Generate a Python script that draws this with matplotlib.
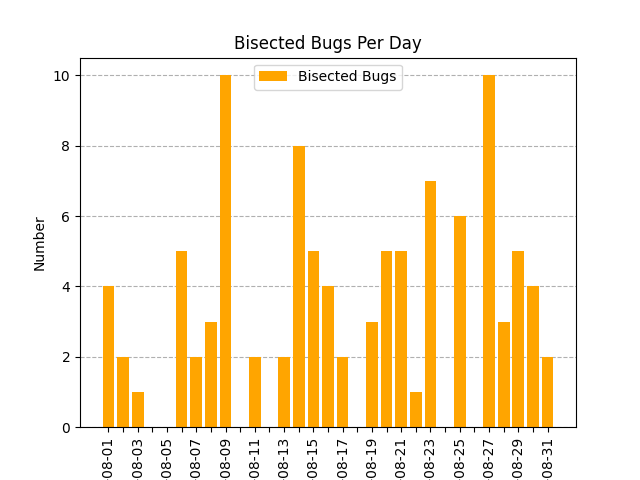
import datetime

import matplotlib
matplotlib.use('Agg')
import matplotlib.pyplot as plt
import matplotlib.dates as mdates

# bugs bisected each day in August
days = list(range(1, 32))
counts = [4, 2, 1, 0, 0, 5, 2, 3, 10, 0,
          2, 0, 2, 8, 5, 4, 2, 0, 3, 5,
          5, 1, 7, 0, 6, 0, 10, 3, 5, 4,
          2]


def main():
    dates = [datetime.date(2019, 8, d) for d in days]

    fig, ax = plt.subplots()
    ax.bar(dates, counts, color='orange', label='Bisected Bugs', zorder=2)

    #-- one tick per day, label only every other day
    ax.set_xticks(dates)
    labels = [d.strftime('%Y-%m-%d') if i % 2 == 0 else ''
              for i, d in enumerate(dates)]
    ax.set_xticklabels(labels, rotation=90)

    ax.yaxis.grid(True, linestyle='--', color='#b0b0b0', zorder=0)
    ax.set_axisbelow(True)
    ax.set_ylabel('Number')
    ax.set_title('Bisected Bugs Per Day')
    ax.legend(loc='upper center')

    fig.savefig('out.png', dpi=100)


if __name__ == '__main__':
    main()
